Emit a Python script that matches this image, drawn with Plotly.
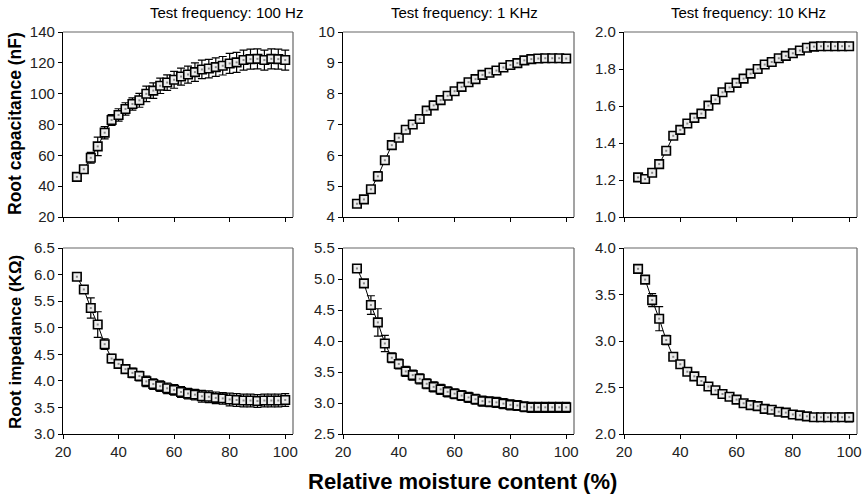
import plotly.graph_objects as go
from plotly.subplots import make_subplots

# Relative moisture content (%)
moisture = [25, 27.5, 30, 32.5, 35, 37.5, 40, 42.5, 45, 47.5, 50, 52.5, 55, 57.5, 60, 62.5,
            65, 67.5, 70, 72.5, 75, 77.5, 80, 82.5, 85, 87.5, 90, 92.5, 95, 97.5, 100]

# Root capacitance (nF)
cap_100 = [46, 51, 58.4, 65.8, 74.7, 82.9, 86.2, 90.1, 93.3, 95.7, 99.9, 102, 105.1, 107.2, 109, 111.1,
           112.4, 114, 115.7, 116.3, 117.2, 118.1, 119.6, 120.3, 121.8, 122.4, 122.6, 121.8, 122.6, 122.4, 121.8]
cap_100_err = [1.5, 1.5, 3.5, 6, 4, 3.5, 4, 4, 4, 4.5, 5, 5, 5, 5, 5.5, 5.5,
               5.5, 6, 6, 6, 6, 6, 6.5, 6.5, 6.5, 6.5, 6.5, 6.5, 6.5, 6.5, 6.5]
cap_1k = [4.43, 4.57, 4.9, 5.32, 5.84, 6.33, 6.57, 6.83, 7.0, 7.18, 7.45, 7.62, 7.79, 7.93, 8.08, 8.22,
          8.37, 8.47, 8.61, 8.68, 8.75, 8.85, 8.93, 8.99, 9.08, 9.12, 9.14, 9.15, 9.15, 9.15, 9.14]
cap_1k_err = [0.04, 0.04, 0.05, 0.15, 0.06, 0.04, 0.04, 0.04, 0.04, 0.04, 0.04, 0.04, 0.04, 0.04, 0.04, 0.04,
              0.04, 0.04, 0.04, 0.04, 0.04, 0.04, 0.04, 0.04, 0.04, 0.04, 0.04, 0.04, 0.04, 0.04, 0.04]
cap_10k = [1.214, 1.205, 1.239, 1.286, 1.358, 1.439, 1.471, 1.505, 1.536, 1.559, 1.602, 1.635, 1.674, 1.70,
           1.725, 1.748, 1.775, 1.80, 1.824, 1.838, 1.858, 1.871, 1.885, 1.90, 1.915, 1.921, 1.923, 1.923,
           1.923, 1.923, 1.923]
cap_10k_err = [0.005] * 31

# Root impedance (KOhm)
imp_100 = [5.96, 5.72, 5.37, 5.06, 4.69, 4.42, 4.32, 4.22, 4.15, 4.09, 3.99, 3.94, 3.90, 3.86, 3.83, 3.79,
           3.76, 3.74, 3.71, 3.70, 3.68, 3.67, 3.65, 3.64, 3.63, 3.63, 3.62, 3.63, 3.63, 3.63, 3.64]
imp_100_err = [0.07, 0.05, 0.19, 0.24, 0.1, 0.08, 0.08, 0.08, 0.09, 0.09, 0.1, 0.1, 0.1, 0.1, 0.1, 0.1,
               0.1, 0.1, 0.11, 0.11, 0.11, 0.11, 0.12, 0.12, 0.12, 0.12, 0.12, 0.12, 0.12, 0.12, 0.12]
imp_1k = [5.17, 4.93, 4.58, 4.30, 3.96, 3.73, 3.63, 3.51, 3.45, 3.39, 3.31, 3.26, 3.22, 3.18, 3.15, 3.12,
          3.09, 3.06, 3.03, 3.02, 3.01, 2.99, 2.97, 2.96, 2.94, 2.93, 2.93, 2.93, 2.93, 2.93, 2.93]
imp_1k_err = [0.06, 0.05, 0.15, 0.22, 0.13, 0.08, 0.08, 0.08, 0.08, 0.08, 0.08, 0.08, 0.08, 0.08, 0.08, 0.08,
              0.08, 0.08, 0.08, 0.08, 0.08, 0.08, 0.08, 0.08, 0.08, 0.08, 0.08, 0.08, 0.08, 0.08, 0.08]
imp_10k = [3.776, 3.66, 3.44, 3.24, 3.01, 2.83, 2.75, 2.67, 2.62, 2.57, 2.51, 2.47, 2.43, 2.40, 2.37, 2.33,
           2.31, 2.30, 2.27, 2.26, 2.24, 2.23, 2.21, 2.20, 2.19, 2.18, 2.18, 2.18, 2.18, 2.18, 2.18]
imp_10k_err = [0.01, 0.01, 0.07, 0.13, 0.05, 0.01, 0.01, 0.01, 0.01, 0.01, 0.01, 0.01, 0.01, 0.01, 0.01, 0.01,
               0.01, 0.01, 0.01, 0.01, 0.01, 0.01, 0.01, 0.01, 0.01, 0.01, 0.01, 0.01, 0.01, 0.01, 0.05]

titles = ["Test frequency: 100 Hz", "Test frequency: 1 KHz", "Test frequency: 10 KHz"]
x_ticks = [20, 40, 60, 80, 100]

panels = [
    (1, 1, cap_100, cap_100_err, [20, 140], [20, 40, 60, 80, 100, 120, 140], "d"),
    (1, 2, cap_1k, cap_1k_err, [4, 10], [4, 5, 6, 7, 8, 9, 10], "d"),
    (1, 3, cap_10k, cap_10k_err, [1.0, 2.0], [1.0, 1.2, 1.4, 1.6, 1.8, 2.0], ".1f"),
    (2, 1, imp_100, imp_100_err, [3.0, 6.5], [3.0, 3.5, 4.0, 4.5, 5.0, 5.5, 6.0, 6.5], ".1f"),
    (2, 2, imp_1k, imp_1k_err, [2.5, 5.5], [2.5, 3.0, 3.5, 4.0, 4.5, 5.0, 5.5], ".1f"),
    (2, 3, imp_10k, imp_10k_err, [2.0, 4.0], [2.0, 2.5, 3.0, 3.5, 4.0], ".1f"),
]

W, H = 862, 498
col_px = [(63, 293), (343, 574), (624, 857)]
row_px = [(32, 217), (248, 434)]
title_px = [226, 465, 748]

fig = make_subplots(rows=2, cols=3)
font = "Liberation Sans, Arial, sans-serif"

for row, col, ys, err, yr, yt, fmt in panels:
    fig.add_trace(go.Scatter(
        x=moisture, y=ys, mode="lines+markers",
        line=dict(color="black", width=1),
        marker=dict(symbol="square", size=8.5, color="#ececec", line=dict(color="black", width=1.6)),
        error_y=dict(type="data", array=err, color="black", thickness=1.2, width=4),
        showlegend=False), row=row, col=col)
    fig.add_trace(go.Scatter(
        x=moisture, y=ys, mode="markers",
        marker=dict(symbol="square", size=2, color="#888888"),
        showlegend=False, hoverinfo="skip"), row=row, col=col)
    x0, x1 = col_px[col - 1]
    y0, y1 = row_px[row - 1]
    fig.update_xaxes(range=[20, 102.8], domain=[x0 / W, x1 / W], tickvals=x_ticks,
                     showticklabels=(row == 2), ticks="outside", ticklen=4, tickwidth=1,
                     tickcolor="black", showline=True, linecolor="black", linewidth=1.2,
                     showgrid=False, zeroline=False, automargin=False, ticklabeloverflow="allow",
                     tickfont=dict(family=font, size=15, color="#222"),
                     row=row, col=col)
    fig.update_yaxes(range=yr, domain=[1 - y1 / H, 1 - y0 / H], tickvals=yt, tickformat=fmt,
                     ticks="outside", ticklen=4, tickwidth=1, tickcolor="black",
                     showline=True, linecolor="black", linewidth=1.2,
                     showgrid=False, zeroline=False, automargin=False,
                     tickfont=dict(family=font, size=15, color="#222"),
                     row=row, col=col)

# light frame on top and right of each panel
for i in range(1, 7):
    sfx = "" if i == 1 else str(i)
    fig.add_shape(type="line", xref=f"x{sfx} domain", yref=f"y{sfx} domain",
                  x0=0, x1=1, y0=1, y1=1, line=dict(color="#666", width=1.2))
    fig.add_shape(type="line", xref=f"x{sfx} domain", yref=f"y{sfx} domain",
                  x0=1, x1=1, y0=0, y1=1, line=dict(color="#666", width=1.2))

annotations = []
for c, t in enumerate(titles):
    annotations.append(dict(text=t, x=title_px[c] / W, y=1 - 13 / H))
annotations.append(dict(text="<b>Root capacitance (nF)</b>", x=15 / W, y=1 - 124 / H,
                        textangle=-90, font=dict(family=font, size=17.5, color="black")))
annotations.append(dict(text="<b>Root impedance (K\u03a9)</b>", x=15 / W, y=1 - 342 / H,
                        textangle=-90, font=dict(family=font, size=17, color="black")))
annotations.append(dict(text="<b>Relative moisture content (%)</b>", x=462 / W, y=1 - 481 / H,
                        font=dict(family=font, size=22, color="black")))
for a in annotations:
    a.update(xref="paper", yref="paper", showarrow=False, xanchor="center", yanchor="middle")
    a.setdefault("font", dict(family=font, size=15, color="black"))

fig.update_layout(width=W, height=H, margin=dict(l=0, r=0, t=0, b=0, autoexpand=False),
                  paper_bgcolor="white", plot_bgcolor="white",
                  annotations=annotations, font=dict(family=font))

fig.write_html("out.html", config={"displayModeBar": False},
               post_script="document.body.style.margin='0';")
